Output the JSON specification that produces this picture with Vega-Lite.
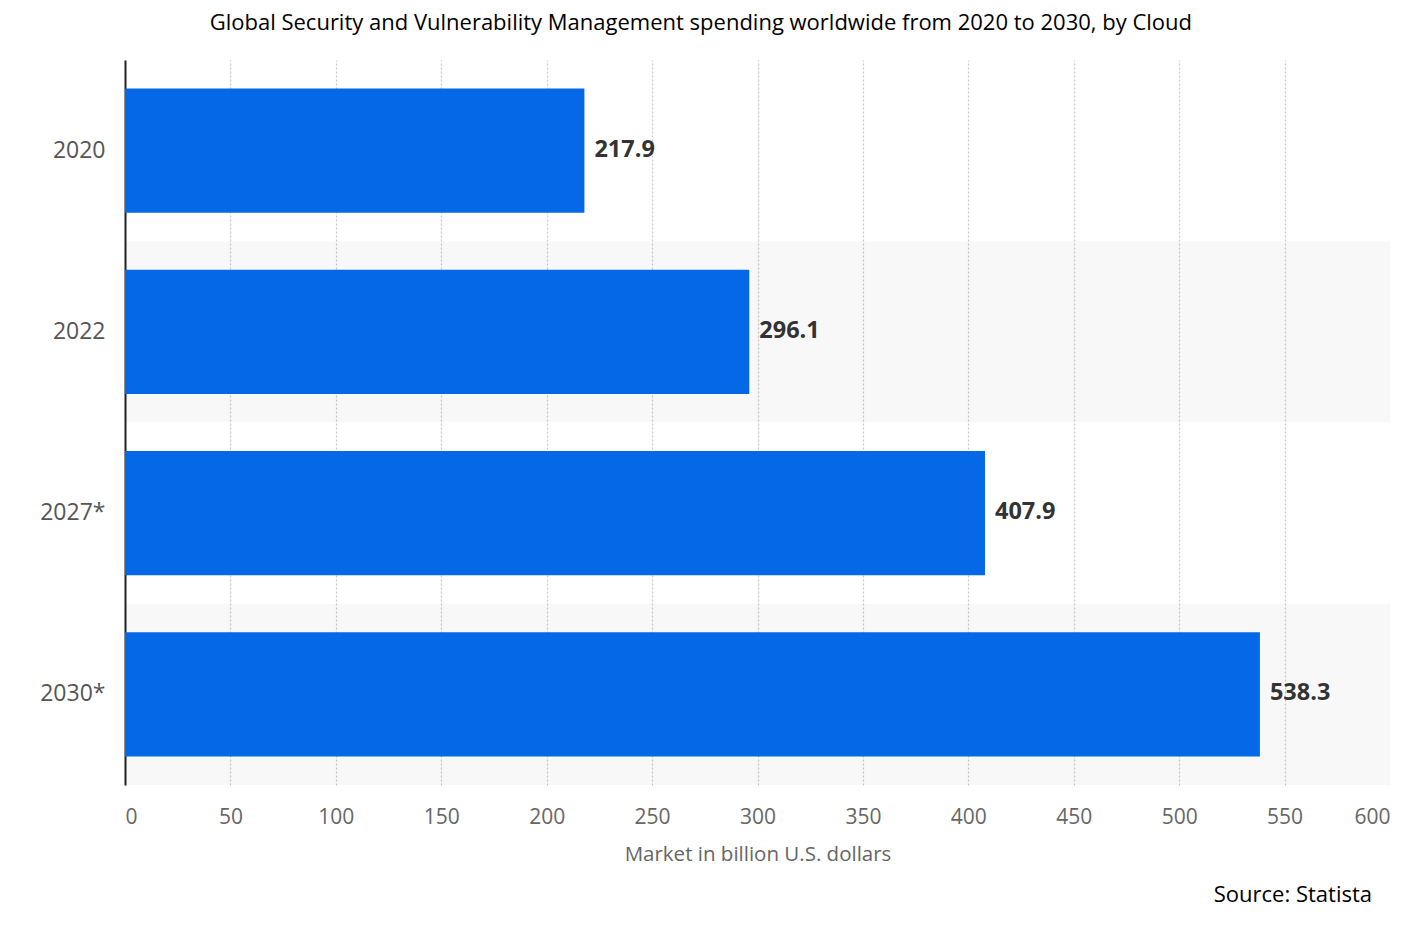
{
  "$schema": "https://vega.github.io/schema/vega-lite/v6.json",
  "autosize": {"type": "pad"},
  "padding": {"left": 39, "top": 12, "right": 0, "bottom": 20},
  "background": "white",
  "config": {"view": {"stroke": null}, "font": "Open Sans"},
  "title": {
    "text": "Global Security and Vulnerability Management spending worldwide from 2020  to 2030, by Cloud",
    "font": "Open Sans",
    "fontSize": 22,
    "fontWeight": "normal",
    "color": "#000000",
    "anchor": "middle",
    "offset": 25,
    "dx": -14
  },
  "datasets": {
    "spend": [
      {"year": "2020", "value": 217.9, "shade": 0},
      {"year": "2022", "value": 296.1, "shade": 1},
      {"year": "2027*", "value": 407.9, "shade": 0},
      {"year": "2030*", "value": 538.3, "shade": 1}
    ]
  },
  "vconcat": [
    {
      "width": 1265,
      "height": 725,
      "title": {
        "text": "Source: Statista",
        "orient": "bottom",
        "anchor": "end",
        "font": "Open Sans",
        "fontSize": 22,
        "fontWeight": "normal",
        "color": "#000000",
        "offset": 20,
        "dx": -18
      },
      "data": {"name": "spend"},
      "encoding": {
        "y": {
          "field": "year",
          "type": "nominal",
          "sort": ["2020", "2022", "2027*", "2030*"],
          "scale": {"paddingInner": 0, "paddingOuter": 0},
          "axis": {
            "title": null,
            "ticks": false,
            "grid": false,
            "labelPadding": 20,
            "labelFontSize": 23,
            "labelColor": "#555555",
            "labelFont": "Open Sans",
            "domainColor": "#222222",
            "domainWidth": 2
          }
        }
      },
      "layer": [
        {
          "transform": [{"filter": "datum.shade == 1"}],
          "mark": {"type": "bar", "color": "#000000", "opacity": 0.028},
          "encoding": {
            "x": {"datum": 0, "type": "quantitative"},
            "x2": {"datum": 600}
          }
        },
        {
          "mark": {"type": "bar", "color": "#0568e6", "height": {"band": 0.685}},
          "encoding": {
            "x": {
              "field": "value",
              "type": "quantitative",
              "scale": {"domain": [0, 600], "nice": false},
              "axis": {
                "title": "Market in billion U.S. dollars",
                "titleFont": "Open Sans",
                "titleFontSize": 20.5,
                "titleFontWeight": "normal",
                "titleColor": "#666666",
                "titlePadding": 17,
                "values": [0, 50, 100, 150, 200, 250, 300, 350, 400, 450, 500, 550, 600],
                "labelFont": "Open Sans",
                "labelFontSize": 21,
                "labelColor": "#666666",
                "labelPadding": 21,
                "ticks": false,
                "domain": false,
                "grid": true,
                "gridColor": "#c8c8c8",
                "gridDash": [2, 2],
                "gridWidth": 1.2
              }
            }
          }
        },
        {
          "mark": {
            "type": "text",
            "align": "left",
            "baseline": "middle",
            "dx": 10,
            "dy": -1,
            "font": "Open Sans",
            "fontSize": 23.5,
            "fontWeight": "bold",
            "color": "#333333"
          },
          "encoding": {
            "x": {"field": "value", "type": "quantitative"},
            "text": {"field": "value", "type": "quantitative", "format": ".1f"}
          }
        }
      ]
    }
  ]
}
